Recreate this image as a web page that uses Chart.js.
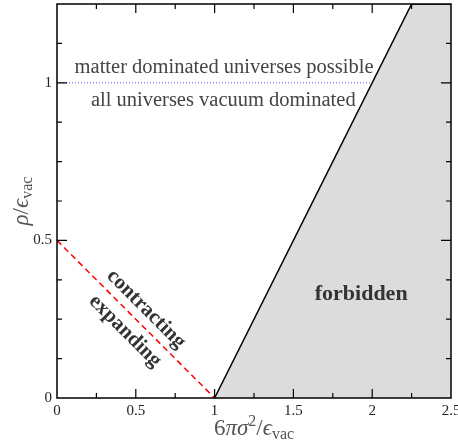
<!DOCTYPE html>
<html>
<head>
<meta charset="utf-8">
<script src="https://cdn.jsdelivr.net/npm/chart.js@4.4.1/dist/chart.umd.min.js"></script>
<style>
  html, body { margin: 0; padding: 0; background: #fff; }
  #wrap { width: 458px; height: 443px; }
</style>
</head>
<body>
<div id="wrap"><canvas id="phaseChart"></canvas></div>
<script>
// boundary of the allowed region (everything below/right of it is forbidden)
const boundaryX = [1, 2.25, 2.5];
const boundaryY = [0, 1.25, 1.25];
// contracting / expanding divide
const divideX = [0, 1];
const divideY = [0.5, 0];
// matter domination threshold
const matterX = [0, 2];
const matterY = [1, 1];
// tick labels shown on the axes
const xTickLabels = [0, 0.5, 1, 1.5, 2, 2.5];
const yTickLabels = [0, 0.5, 1];

function pts(xs, ys) {
    return xs.map((x, i) => ({x: x, y: ys[i]}));
}

const SERIF = '"Liberation Serif", "DejaVu Serif", serif';

// text drawn on top of the plot, in data coordinates
const notes = [
    {text: 'matter dominated universes possible', x: 1.06, y: 1.047, font: '20.5px ' + SERIF, color: '#444', rot: 0},
    {text: 'all universes vacuum dominated', x: 1.055, y: 0.943, font: '20.5px ' + SERIF, color: '#444', rot: 0},
    {text: 'forbidden', x: 1.93, y: 0.33, font: 'bold 22px ' + SERIF, color: '#333', rot: 0},
    {text: 'contracting', x: 0.565, y: 0.282, font: 'bold 21px ' + SERIF, color: '#333', rot: Math.PI / 4},
    {text: 'expanding', x: 0.432, y: 0.212, font: 'bold 21px ' + SERIF, color: '#333', rot: Math.PI / 4}
];

function drawRich(ctx, parts, cx, cy) {
    let total = 0;
    parts.forEach(p => { ctx.font = p.font; total += ctx.measureText(p.t).width; });
    let x = cx - total / 2;
    parts.forEach(p => {
        ctx.font = p.font;
        ctx.fillText(p.t, x, cy + (p.dy || 0));
        x += ctx.measureText(p.t).width;
    });
}

const framePlugin = {
    id: 'frame',
    afterDatasetsDraw(chart) {
        const ctx = chart.ctx;
        const a = chart.chartArea;
        const xs = chart.scales.x, ys = chart.scales.y;
        ctx.save();
        ctx.strokeStyle = '#000';
        ctx.lineWidth = 1.5;
        ctx.strokeRect(a.left, a.top, a.right - a.left, a.bottom - a.top);

        // inward ticks on all four sides
        ctx.lineWidth = 1.2;
        ctx.beginPath();
        xs.ticks.forEach(t => {
            if (t.value <= xs.min || t.value >= xs.max) return;
            const px = xs.getPixelForValue(t.value);
            const len = Math.abs(t.value % 0.5) < 1e-9 ? 9 : 5;
            ctx.moveTo(px, a.bottom); ctx.lineTo(px, a.bottom - len);
            ctx.moveTo(px, a.top); ctx.lineTo(px, a.top + len);
        });
        ys.ticks.forEach(t => {
            if (t.value <= ys.min || t.value >= ys.max) return;
            const py = ys.getPixelForValue(t.value);
            const len = Math.abs(t.value % 0.5) < 1e-9 ? 10 : 5;
            ctx.moveTo(a.left, py); ctx.lineTo(a.left + len, py);
            ctx.moveTo(a.right, py); ctx.lineTo(a.right - len, py);
        });
        ctx.stroke();

        // notes
        ctx.textBaseline = 'middle';
        ctx.textAlign = 'center';
        notes.forEach(n => {
            ctx.save();
            ctx.translate(xs.getPixelForValue(n.x), ys.getPixelForValue(n.y));
            ctx.rotate(n.rot);
            ctx.font = n.font;
            ctx.fillStyle = n.color;
            ctx.fillText(n.text, 0, 0);
            ctx.restore();
        });

        // axis titles with super/subscripts
        ctx.textAlign = 'left';
        ctx.textBaseline = 'alphabetic';
        ctx.fillStyle = '#555';
        const big = '23px ' + SERIF, ital = 'italic 23px ' + SERIF, small = '16px ' + SERIF;
        drawRich(ctx, [
            {t: '6', font: big}, {t: 'π', font: ital}, {t: 'σ', font: ital},
            {t: '2', font: small, dy: -9}, {t: '/', font: big}, {t: 'ϵ', font: ital},
            {t: 'vac', font: small, dy: 4}
        ], 254, 435);

        ctx.save();
        ctx.translate(28, (a.top + a.bottom) / 2);
        ctx.rotate(-Math.PI / 2);
        drawRich(ctx, [
            {t: 'ρ', font: ital}, {t: '/', font: big}, {t: 'ϵ', font: ital},
            {t: 'vac', font: small, dy: 4}
        ], 0, 0);
        ctx.restore();
        ctx.restore();
    }
};

new Chart(document.getElementById('phaseChart'), {
    type: 'scatter',
    data: {
        datasets: [
            {
                data: pts(boundaryX, boundaryY),
                showLine: true,
                borderColor: '#000',
                borderWidth: 1.5,
                backgroundColor: '#dcdcdc',
                fill: 'origin',
                pointRadius: 0
            },
            {
                data: pts(divideX, divideY),
                showLine: true,
                borderColor: '#ff0000',
                borderWidth: 1.5,
                borderDash: [6, 4],
                pointRadius: 0
            },
            {
                data: pts(matterX, matterY),
                showLine: true,
                borderColor: '#5555ff',
                borderWidth: 1,
                borderDash: [1, 2],
                pointRadius: 0
            }
        ]
    },
    options: {
        responsive: true,
        maintainAspectRatio: false,
        animation: false,
        layout: {padding: {top: 4, right: 7, left: 0, bottom: 0}},
        plugins: {legend: {display: false}, tooltip: {enabled: false}},
        scales: {
            x: {
                type: 'linear',
                min: 0, max: 2.5,
                grid: {display: false, drawTicks: false},
                border: {display: false},
                ticks: {
                    stepSize: 0.25,
                    autoSkip: false,
                    maxRotation: 0,
                    padding: 4,
                    color: '#222',
                    font: {family: SERIF, size: 15},
                    callback: v => xTickLabels.includes(v) ? String(v) : ''
                },
                afterFit(s) { s.height = 45; s.paddingLeft = 0; s.paddingRight = 0; }
            },
            y: {
                type: 'linear',
                min: 0, max: 1.25,
                grid: {display: false, drawTicks: false},
                border: {display: false},
                ticks: {
                    stepSize: 0.125,
                    autoSkip: false,
                    padding: 5,
                    color: '#222',
                    font: {family: SERIF, size: 15},
                    callback: v => yTickLabels.includes(v) ? String(v) : ''
                },
                afterFit(s) { s.width = 57; s.paddingTop = 0; s.paddingBottom = 0; }
            }
        }
    },
    plugins: [framePlugin]
});
</script>
</body>
</html>
